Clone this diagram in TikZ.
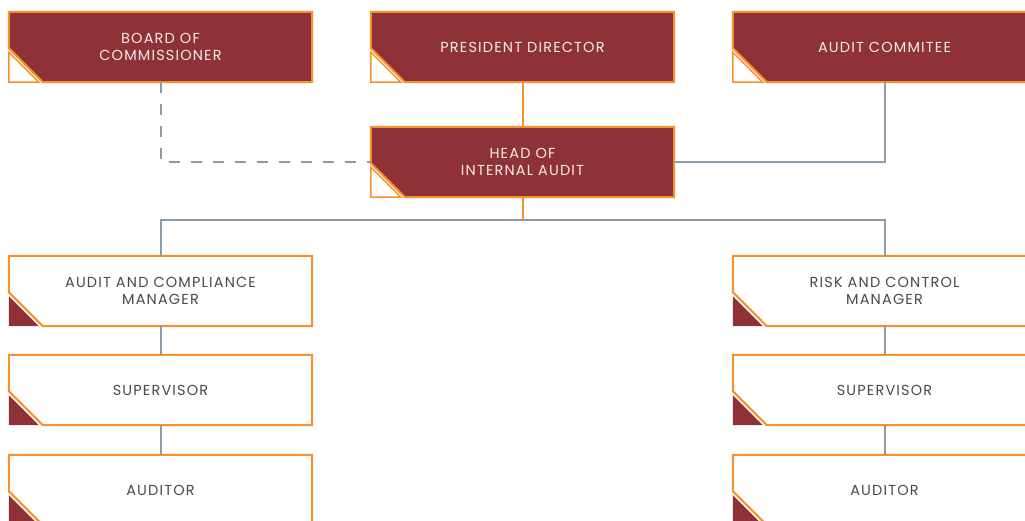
\documentclass[tikz,border=0pt]{standalone}
\usepackage{fontspec}
\setmainfont{Poppins}[LetterSpace=8]
\usetikzlibrary{backgrounds}
\definecolor{dred}{HTML}{8E3237}
\definecolor{orng}{HTML}{F7922B}
\definecolor{gline}{HTML}{8C9BA8}
\definecolor{tgray}{HTML}{4A4A4A}
\definecolor{twhite}{HTML}{F5E9EA}
\tikzset{
  basebox/.style={minimum width=303pt, minimum height=70pt, inner sep=0pt, align=center,
    font=\fontsize{14.5}{16.7}\selectfont},
  darkbox/.style={basebox, text=twhite},
  lightbox/.style={basebox, text=tgray},
  boxline/.style={draw=orng, line width=2pt, line join=miter},
  conn/.style={draw=gline, line width=2pt},
  oconn/.style={draw=orng, line width=2pt},
  dconn/.style={conn, dash pattern=on 11pt off 11pt},
}
\newcommand\darkorg[4]{%
  \node[darkbox] (#1) at (#2,#3) {#4};
  \begin{scope}[on background layer]
    \draw[boxline, fill=dred] (#1.north west) -- (#1.north east) -- (#1.south east)
      -- ([xshift=34pt]#1.south west) -- ([yshift=34pt]#1.south west) -- cycle;
    \draw[draw=orng, line width=1.5pt, fill=white] ([yshift=30pt]#1.south west)
      -- (#1.south west) -- ([xshift=30pt]#1.south west) -- cycle;
  \end{scope}}
\newcommand\lightorg[4]{%
  \node[lightbox] (#1) at (#2,#3) {#4};
  \begin{scope}[on background layer]
    \draw[boxline, fill=white] (#1.north west) -- (#1.north east) -- (#1.south east)
      -- ([xshift=34pt]#1.south west) -- ([yshift=34pt]#1.south west) -- cycle;
    \fill[dred] ([yshift=30pt]#1.south west)
      -- (#1.south west) -- ([xshift=30pt]#1.south west) -- cycle;
  \end{scope}}
\begin{document}
\begin{tikzpicture}[x=1pt, y=-1pt]
\useasboundingbox (0,0) rectangle (1025,520);
\begin{scope}
\clip (0,0) rectangle (1025,520);
\darkorg{board}{160.5}{47}{BOARD OF\\COMMISSIONER}
\darkorg{pres}{522.5}{47}{PRESIDENT DIRECTOR}
\darkorg{comm}{884.5}{47}{AUDIT COMMITEE}
\darkorg{head}{522.5}{162}{HEAD OF\\INTERNAL AUDIT}
\lightorg{acm}{160.5}{291}{AUDIT AND COMPLIANCE\\MANAGER}
\lightorg{sup1}{160.5}{390}{SUPERVISOR}
\lightorg{aud1}{160.5}{490}{AUDITOR}
\lightorg{rcm}{884.5}{291}{RISK AND CONTROL\\MANAGER}
\lightorg{sup2}{884.5}{390}{SUPERVISOR}
\lightorg{aud2}{884.5}{490}{AUDITOR}
\coordinate (split) at (522.5,220);
\begin{scope}[on background layer]
\draw[dconn] (board.south) |- (head.west);
\draw[conn] (comm.south) |- (head.east);
\draw[oconn] (pres.south) -- (head.north);
\draw[conn] (acm.north) |- (split) -| (rcm.north);
\draw[oconn] (head.south) -- (split);
\draw[conn] (acm.south) -- (sup1.north);
\draw[conn] (sup1.south) -- (aud1.north);
\draw[conn] (rcm.south) -- (sup2.north);
\draw[conn] (sup2.south) -- (aud2.north);
\end{scope}
\end{scope}
\end{tikzpicture}
\end{document}
